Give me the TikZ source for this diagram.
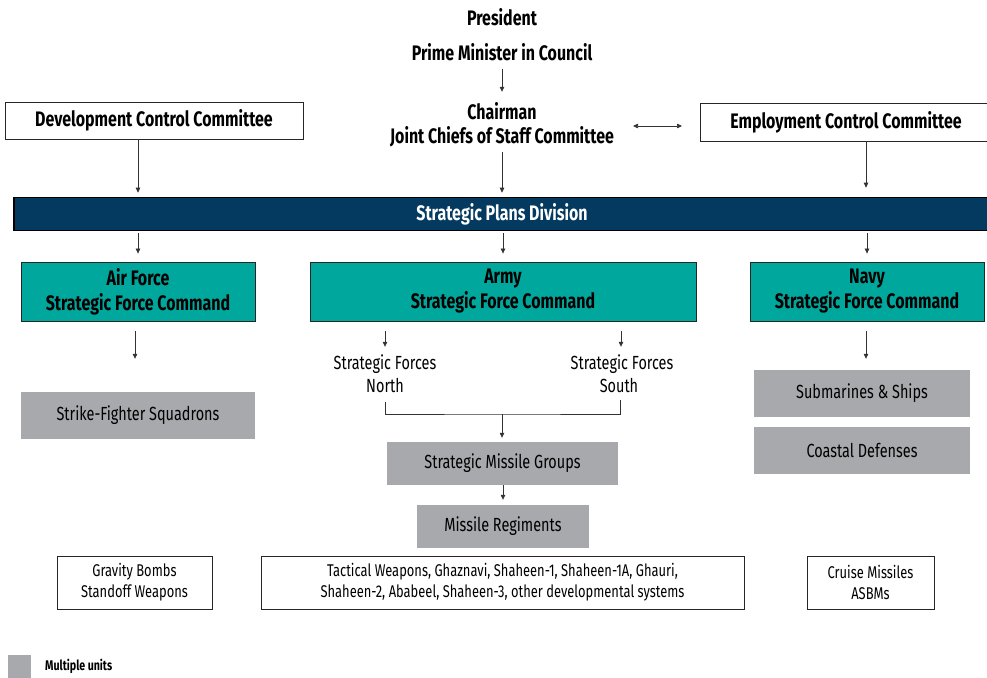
\documentclass[tikz,border=0pt]{standalone}
\usepackage{fontspec}
\setmainfont{Fira Sans}[FakeStretch=0.76]
\usetikzlibrary{arrows.meta}
\definecolor{spdblue}{HTML}{043A5F}
\definecolor{sfcteal}{HTML}{00A79D}
\definecolor{unitgray}{HTML}{A7A9AC}
\begin{document}
\begin{tikzpicture}[x=1pt,y=-1pt,
  hd/.style={font=\fontsize{21}{25}\selectfont\bfseries, align=center, inner sep=0pt},
  tx/.style={font=\fontsize{19}{23}\selectfont, align=center, inner sep=0pt},
  sm/.style={font=\fontsize{17}{21}\selectfont, align=center, inner sep=0pt},
  whitebox/.style={draw=black!85, line width=0.8pt, fill=white},
  tealbox/.style={draw=black!85, line width=0.8pt, fill=sfcteal},
  graybox/.style={fill=unitgray},
  conn/.style={draw=black!80, line width=0.7pt, -{Triangle[width=4.5pt,length=5pt]}},
  line/.style={draw=black!80, line width=0.7pt}]
\useasboundingbox (0,0) rectangle (987,677);

% top chain
\node[hd] (pres) at (502,17) {President};
\node[hd, minimum height=26pt] (pm) at (502,52) {Prime Minister in Council};
\node[hd, minimum height=50pt] (chair) at (502,125) {Chairman\\[-1pt]Joint Chiefs of Staff Committee};

% committees
\node[whitebox, hd, minimum width=298pt, minimum height=37pt] (dcc) at (154,120.5) {Development Control Committee};
\node[whitebox, minimum width=300pt, minimum height=38pt, anchor=west] (ecc) at (700,122) {};
\node[hd] (ecct) at (846,122) {Employment Control Committee};

% strategic plans division
\node[draw=black, line width=1.6pt, fill=spdblue, minimum width=985pt, minimum height=33pt, anchor=west] (spd) at (13,214) {};
\node[hd, text=white] (spdt) at (502,214) {Strategic Plans Division};

% strategic force commands
\node[tealbox, hd, minimum width=234pt, minimum height=59pt] (af) at (138,291.5) {Air Force\\Strategic Force Command};
\node[tealbox, hd, minimum width=386pt, minimum height=59pt] (army) at (503,291.5) {Army\\Strategic Force Command};
\node[tealbox, hd, minimum width=234pt, minimum height=59pt] (navy) at (867,291.5) {Navy\\Strategic Force Command};

% air force
\node[graybox, tx, minimum width=234pt, minimum height=47pt] (sfs) at (138,415.5) {Strike-Fighter Squadrons};

% army
\node[tx, minimum height=50pt] (sfn) at (385,374) {Strategic Forces\\North};
\node[tx, minimum height=50pt] (sfso) at (622,374) {Strategic Forces\\\hspace*{-6pt}South};
\coordinate (join) at (502,414);
\node[graybox, tx, minimum width=231pt, minimum height=43pt] (smg) at (502.5,463.5) {Strategic Missile Groups};
\node[graybox, tx, minimum width=172pt, minimum height=43pt] (mr) at (503,526.5) {Missile Regiments};

% navy
\node[graybox, tx, minimum width=216pt, minimum height=47pt] (sub) at (862,393.5) {Submarines \& Ships};
\node[graybox, tx, minimum width=216pt, minimum height=47pt] (coast) at (862,450.5) {Coastal Defenses};

% weapons
\node[whitebox, sm, minimum width=155pt, minimum height=53pt] (gb) at (134.5,582.5) {Gravity Bombs\\Standoff Weapons};
\node[whitebox, sm, minimum width=483pt, minimum height=53pt] (tw) at (502.5,582.5) {Tactical Weapons, Ghaznavi, Shaheen-1, Shaheen-1A, Ghauri,\\Shaheen-2, Ababeel, Shaheen-3, other developmental systems};
\node[whitebox, sm, minimum width=127pt, minimum height=53pt] (cm) at (870.5,582.5) {Cruise Missiles\\ASBMs};

% legend
\node[graybox, minimum width=23pt, minimum height=23pt, inner sep=0pt] (leg) at (19.5,666.5) {};
\node[font=\fontsize{14}{16}\selectfont\bfseries, inner sep=0pt, anchor=west] (legt) at (45,666) {Multiple units};

% connectors
\draw[conn, shorten <=4pt, shorten >=8pt] (pm.south) -- (chair.north);
\draw[conn, shorten <=2pt, shorten >=4pt] (chair.south) -- (spd.north -| chair.south);
\draw[conn, {Triangle[width=4.5pt,length=5pt]}-{Triangle[width=4.5pt,length=5pt]}] ([shift={(-18pt,-4pt)}]ecc.west) -- ([shift={(-67pt,-4pt)}]ecc.west);
\draw[conn, shorten >=4pt] (dcc.south -| 138,0) -- (spd.north -| 138,0);
\draw[conn, shorten >=9pt] (ecc.south -| 866,0) -- (spd.north -| 866,0);

\draw[conn, shorten <=2pt, shorten >=8pt] (spd.south -| af.north) -- (af.north);
\draw[conn, shorten <=2pt, shorten >=8pt] (spd.south -| army.north) -- (army.north);
\draw[conn, shorten <=2pt, shorten >=8pt] (spd.south -| navy.north) -- (navy.north);

\draw[conn, shorten <=10pt, shorten >=33pt] ([xshift=-3pt]af.south) -- ([xshift=-3pt]sfs.north);
\draw[conn, shorten <=10pt, shorten >=11pt] (navy.south -| 866,0) -- (sub.north -| 866,0);

\draw[conn, shorten <=10pt, shorten >=2pt] (army.south -| sfn.north) -- (sfn.north);
\draw[conn, shorten <=10pt, shorten >=2pt] (army.south -| 621,0) -- (sfso.north -| 621,0);
\draw[line] ([yshift=-3pt]sfn.south) |- (join) -| ([yshift=-1pt]sfso.south -| 620,0);
\draw[conn, shorten >=4pt] (join) -- (smg.north -| join);
\draw[conn, shorten >=5pt] (smg.south -| mr.north) -- (mr.north);
\end{tikzpicture}
\end{document}
